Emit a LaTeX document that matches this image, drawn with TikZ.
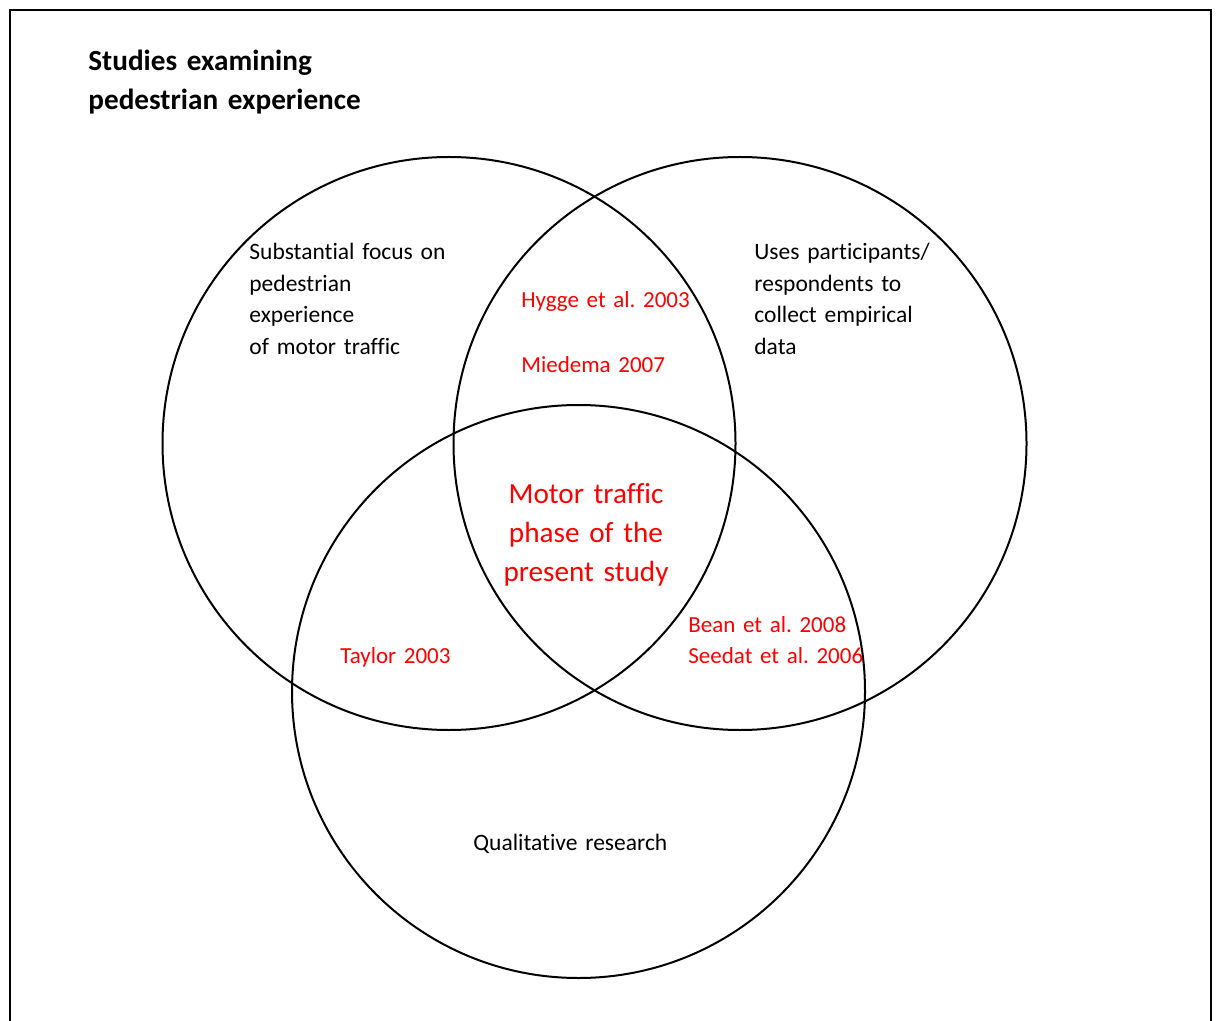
\documentclass[tikz,border=0pt]{standalone}
\usepackage{fontspec}
\setmainfont{Carlito}[Ligatures=NoCommon]
\frenchspacing
\definecolor{citered}{RGB}{255,0,0}

\tikzset{
  setcircle/.style={draw, circle, line width=1pt, minimum size=286.5pt, inner sep=0pt},
  plaintext/.style={font=\fontsize{11.75}{15.75}\selectfont, inner sep=0pt, align=left, text width=120pt, anchor=base west},
  citetext/.style={plaintext, font=\fontsize{11.5}{15.75}\selectfont, text=citered},
  headtext/.style={font=\fontsize{14.6}{19.5}\selectfont\bfseries, inner sep=0pt, align=left, text width=160pt, anchor=base west},
  centretext/.style={font=\fontsize{14.6}{19.5}\selectfont, text=citered, inner sep=0pt, align=center, text width=110pt, anchor=base}
}

\begin{document}
\begin{tikzpicture}[x=0.5pt,y=-0.5pt]
    \useasboundingbox[fill=white] (0,0) rectangle (1220,1021);
    \draw[line width=1pt] (9.5,1040) -- (9.5,10.5) -- (1211,10.5) -- (1211,1040);

    \node[setcircle] (focusset) at (449,443.5) {};
    \node[setcircle] (respset) at (740,443.5) {};
    \node[setcircle] (qualset) at (578.5,691.5) {};

    \node[headtext] (title) at (88,71) {Studies examining\\pedestrian experience};
    \node[plaintext] (focuslabel) at (249,260) {Substantial focus on\\pedestrian\\experience\\of motor traffic};
    \node[plaintext] (resplabel) at (754,260) {Uses participants/\\respondents to\\collect empirical\\data};
    \node[plaintext] (quallabel) at (473,850) {Qualitative research};

    \node[citetext] (hygge) at (521,308) {Hygge et al. 2003};
    \node[citetext] (miedema) at (521,372) {Miedema 2007};
    \node[citetext] (taylor) at (340,663) {Taylor 2003};
    \node[citetext] (bean) at (688,632) {Bean et al. 2008\\Seedat et al. 2006};
    \node[centretext] (present) at (586,503) {Motor traffic\\phase of the\\present study};
\end{tikzpicture}
\end{document}
